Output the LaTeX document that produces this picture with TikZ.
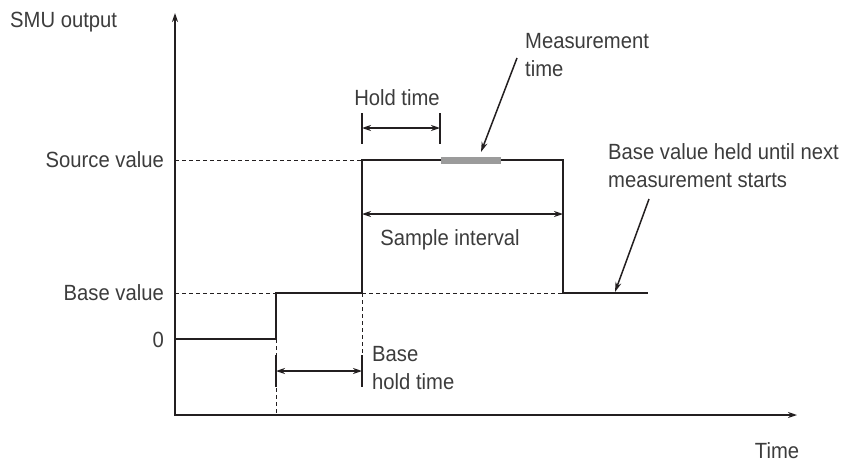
\documentclass[tikz,border=0pt]{standalone}
\usepackage{fontspec}
\setmainfont[FakeStretch=0.92]{Liberation Sans}
\usetikzlibrary{arrows.meta}
\definecolor{txtgray}{HTML}{3C3C3C}
\definecolor{bargray}{HTML}{9B9B9B}
\definecolor{inkblack}{HTML}{231F20}

\tikzset{
  lbl/.style={text=txtgray, inner sep=0pt, align=left, font=\fontsize{22}{28}\selectfont},
  axis/.style={line width=1.6pt, draw=inkblack, {Stealth[length=9pt,width=6pt]}-{Stealth[length=9pt,width=6pt]}},
  sig/.style={line width=2pt, draw=inkblack},
  guide/.style={draw=inkblack, line width=0.8pt, dash pattern=on 4pt off 3pt},
  tick/.style={draw=inkblack, line width=1.6pt},
  dim/.style={draw=inkblack, line width=1.5pt, {Stealth[length=9pt,width=6pt]}-{Stealth[length=9pt,width=6pt]}},
  pointer/.style={draw=inkblack, line width=1.5pt, -{Stealth[length=10pt,width=6pt]}}
}

\begin{document}
\begin{tikzpicture}[x=1pt, y=-1pt]
    \useasboundingbox (0,0) rectangle (858,461);

    \coordinate (ytop) at (175,13);
    \coordinate (O) at (175,415);
    \coordinate (xend) at (797,415);

    \coordinate (zero) at (175,339);
    \coordinate (up1) at (276,339);
    \coordinate (base1) at (276,293);
    \coordinate (base2) at (362,293);
    \coordinate (src1) at (362,160);
    \coordinate (src2) at (563,160);
    \coordinate (base3) at (563,293);
    \coordinate (base4) at (648,293);

    \coordinate (srcaxis) at (175,160);
    \coordinate (baseaxis) at (175,293);
    \coordinate (up1foot) at (276,415);
    \coordinate (src1foot) at (362,355);

    \node[lbl, anchor=base west] (smu) at (10,27) {SMU output};
    \node[lbl, anchor=base] (time) at (777,458) {Time};
    \node[lbl, anchor=base east] (srcval) at (164,167) {Source value};
    \node[lbl, anchor=base east] (baseval) at (164,300) {Base value};
    \node[lbl, anchor=base east] (zeroval) at (164,347) {0};

    \draw[guide] (srcaxis) -- (src1);
    \draw[guide] (baseaxis) -- (base1);
    \draw[guide] (base2) -- (base3);
    \draw[guide] (up1) -- (up1foot);
    \draw[guide] (base2) -- (src1foot);

    \draw[axis] (ytop) -- (O) -- (xend);
    \draw[sig] (zero) -- (up1) -- (base1) -- (base2) -- (src1) -- (src2) -- (base3) -- (base4);

    \coordinate (meas1) at (441,160);
    \coordinate (meas2) at (501,160);
    \draw[draw=bargray, line width=7pt] (meas1) -- (meas2);

    % hold time
    \coordinate (hold1) at (362,113);
    \coordinate (hold2) at (440,113);
    \draw[tick] (hold1) -- ++(0,31);
    \draw[tick] (hold2) -- ++(0,31);
    \coordinate (holdl) at (362,128);
    \coordinate (holdr) at (440,128);
    \draw[dim] (holdl) -- (holdr);
    \node[lbl, anchor=base] (holdtxt) at (397,105) {Hold time};

    % sample interval
    \coordinate (sampl) at (362,214);
    \coordinate (sampr) at (563,214);
    \draw[dim] (sampl) -- (sampr);
    \node[lbl, anchor=base] (samptxt) at (450,245) {Sample interval};

    % base hold time
    \coordinate (bh1) at (276,355);
    \coordinate (bh2) at (362,355);
    \draw[tick] (bh1) -- ++(0,32);
    \draw[tick] (bh2) -- ++(0,32);
    \coordinate (bhl) at (276,371);
    \coordinate (bhr) at (362,371);
    \draw[dim] (bhl) -- (bhr);
    \node[lbl, anchor=north west] (bhtxt) at (372,346) {Base\\hold time};

    % call-outs
    \node[lbl, anchor=north west] (meastxt) at (525,33) {Measurement\\time};
    \coordinate (meastail) at (517,58);
    \coordinate (meastip) at (481,152);
    \draw[pointer] (meastail) -- (meastip);

    \node[lbl, anchor=north west] (heldtxt) at (608,143) {Base value held until next\\measurement starts};
    \coordinate (heldtail) at (649,199);
    \coordinate (heldtip) at (615,292);
    \draw[pointer] (heldtail) -- (heldtip);

\end{tikzpicture}
\end{document}
